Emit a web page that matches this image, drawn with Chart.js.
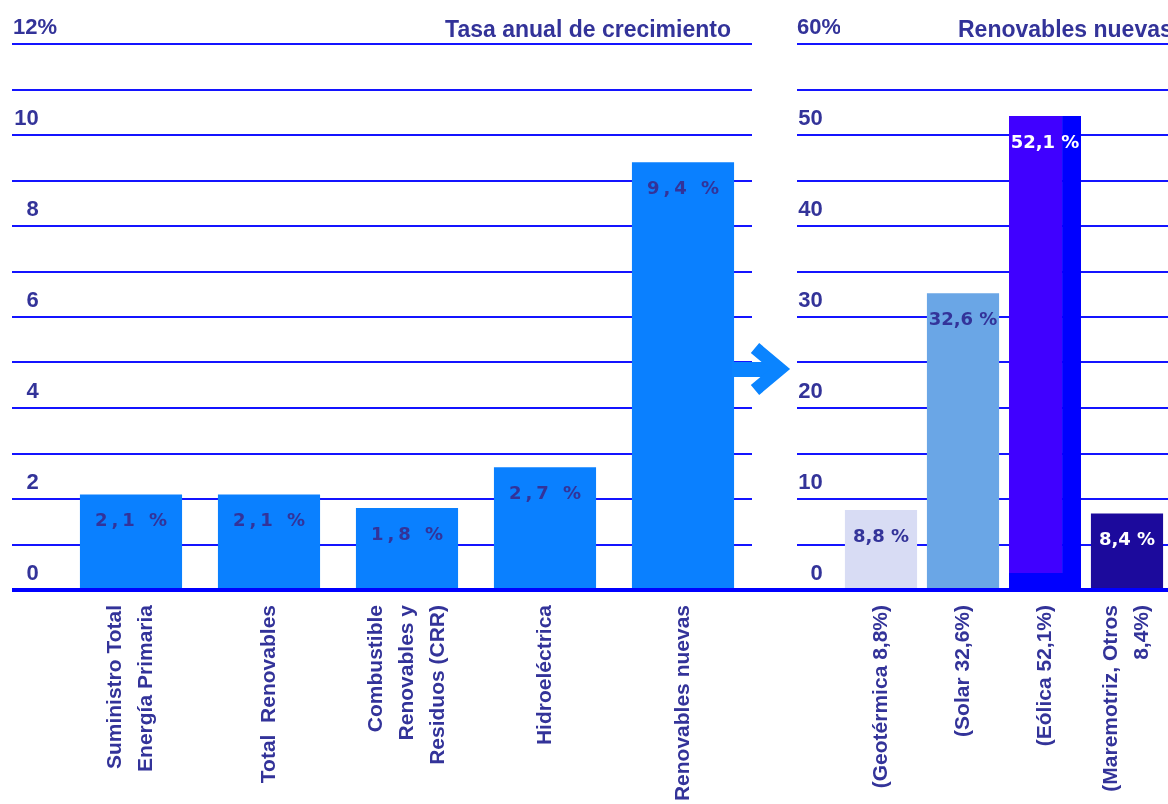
<!DOCTYPE html>
<html>
<head>
<meta charset="utf-8">
<script src="https://cdn.jsdelivr.net/npm/chart.js@4/dist/chart.umd.min.js"></script>
<style>
	body { margin: 0; background: #fff; }
	#wrap { position: relative; width: 1168px; height: 804px; overflow: hidden; }
	#left { position: absolute; left: 0; top: 0; }
	#right { position: absolute; left: 780px; top: 0; }
	.ttl { position: absolute; top: 18px; font: bold 23px "Liberation Sans", Arial, sans-serif; line-height: 22px; color: #333399; white-space: nowrap; }
	#arrow { position: absolute; left: 0; top: 0; pointer-events: none; }
</style>
</head>
<body>
<div id="wrap">
	<canvas id="left" width="780" height="804"></canvas>
	<canvas id="right" width="388" height="804"></canvas>
	<div class="ttl" style="right: 437px;">Tasa anual de crecimiento</div>
	<div class="ttl" style="left: 958px;">Renovables nuevas</div>
	<svg id="arrow" width="1168" height="804">
		<rect x="732" y="362" width="40" height="15" fill="#0a84ff"/>
		<polyline points="755,348 780,369 755,390" fill="none" stroke="#0a84ff" stroke-width="13" stroke-linejoin="miter"/>
	</svg>
</div>
<script>
// tasa anual de crecimiento (%)
const leftLabels = [
	['Suministro Total', 'Energía Primaria'],
	['Total  Renovables'],
	['Combustible', 'Renovables y', 'Residuos (CRR)'],
	['Hidroeléctrica'],
	['Renovables nuevas']
];
const leftValues = [2.1, 2.1, 1.8, 2.7, 9.4];

// renovables nuevas (%)
const rightLabels = [
	['(Geotérmica 8,8%)'],
	['(Solar 32,6%)'],
	['(Eólica 52,1%)'],
	['(Maremotriz, Otros', '8,4%)']
];
const rightValues = [8.8, 32.6, 52.1, 8.4];

const navy = '#333399';
const gridBlue = '#1414ff';
const tickFont = { family: '"Liberation Sans", Arial, sans-serif', size: 22, weight: 'bold' };

const valueLabels = {
	id: 'valueLabels',
	afterDatasetsDraw(chart, args, opts) {
		const ctx = chart.ctx;
		const meta = chart.getDatasetMeta(0);
		const data = chart.data.datasets[0].data;
		ctx.save();
		ctx.font = 'bold 18px "DejaVu Sans", sans-serif';
		ctx.letterSpacing = opts.spacing + 'px';
		ctx.textAlign = 'center';
		ctx.textBaseline = 'middle';
		meta.data.forEach((bar, i) => {
			ctx.fillStyle = opts.colors[i];
			ctx.fillText(data[i].toFixed(1).replace('.', ',') + ' %', bar.x + opts.spacing / 2, bar.y + opts.dy);
		});
		ctx.restore();
	}
};

const rotLabels = {
	id: 'rotLabels',
	afterDraw(chart, args, opts) {
		const ctx = chart.ctx, x = chart.scales.x;
		ctx.save();
		ctx.font = 'bold 21px "Liberation Sans", Arial, sans-serif';
		ctx.fillStyle = navy;
		ctx.textAlign = 'right';
		ctx.textBaseline = 'middle';
		chart.data.labels.forEach((lines, i) => {
			const cx = x.getPixelForValue(i);
			lines.forEach((line, j) => {
				ctx.save();
				ctx.translate(cx + (j - (lines.length - 1) / 2) * opts.lineHeight, x.top + opts.pad);
				ctx.rotate(-Math.PI / 2);
				ctx.fillText(line, 0, 0);
				ctx.restore();
			});
		});
		ctx.restore();
	}
};

const baseline = {
	id: 'baseline',
	afterDraw(chart, args, opts) {
		const ctx = chart.ctx;
		const y = chart.scales.y.getPixelForValue(0);
		ctx.save();
		ctx.fillStyle = '#0000ff';
		ctx.fillRect(opts.from, y - 2, chart.width - opts.from, 4);
		ctx.restore();
	}
};

function makeChart(id, cfg) {
	return new Chart(document.getElementById(id), {
		type: 'bar',
		data: {
			labels: cfg.labels,
			datasets: [{
				data: cfg.values,
				backgroundColor: cfg.colors,
				borderColor: '#0000ff',
				borderWidth: cfg.borders,
				borderSkipped: false,
				barPercentage: cfg.barPct,
				categoryPercentage: 1
			}]
		},
		options: {
			responsive: false,
			animation: false,
			layout: { padding: cfg.padding },
			plugins: {
				legend: { display: false },
				tooltip: { enabled: false },
				valueLabels: { colors: cfg.textColors, spacing: cfg.spacing, dy: 27 },
				rotLabels: { lineHeight: 31, pad: 15 },
				baseline: { from: cfg.lineFrom }
			},
			scales: {
				x: {
					grid: { display: false },
					border: { display: false },
					ticks: { display: false },
					afterFit: s => { s.height = 214; }
				},
				y: {
					min: 0,
					max: cfg.max,
					border: { display: false },
					grid: { color: gridBlue, lineWidth: 2, tickLength: cfg.axisW, tickColor: gridBlue, tickWidth: 2 },
					ticks: {
						stepSize: cfg.step,
						autoSkip: false,
						font: tickFont,
						color: navy,
						labelOffset: -16,
						padding: cfg.tickPad,
						callback: v => v === cfg.max ? v + '%' : (v % cfg.labelEvery === 0 ? v + '   ' : '')
					},
					afterFit: s => { s.width = cfg.axisW; }
				}
			}
		},
		plugins: [valueLabels, rotLabels, baseline]
	});
}

makeChart('left', {
	labels: leftLabels,
	values: leftValues,
	colors: '#0a80ff',
	borders: 0,
	textColors: leftValues.map(() => navy),
	spacing: 4,
	barPct: 0.74,
	padding: { left: 12, right: 28, top: 44, bottom: 0 },
	lineFrom: 12,
	axisW: 50,
	tickPad: -45,
	max: 12,
	step: 1,
	labelEvery: 2
});

makeChart('right', {
	labels: rightLabels,
	values: rightValues,
	colors: ['#d8dcf4', '#6aa6e6', '#4000ff', '#1c0a9c'],
	borders: [0, 0, { top: 0, left: 0, right: 19, bottom: 16 }, 0],
	textColors: [navy, navy, '#ffffff', '#ffffff'],
	spacing: 0,
	barPct: 0.88,
	padding: { left: 17, right: 0, top: 44, bottom: 0 },
	lineFrom: 0,
	axisW: 43,
	tickPad: -44,
	max: 60,
	step: 5,
	labelEvery: 10
});
</script>
</body>
</html>
